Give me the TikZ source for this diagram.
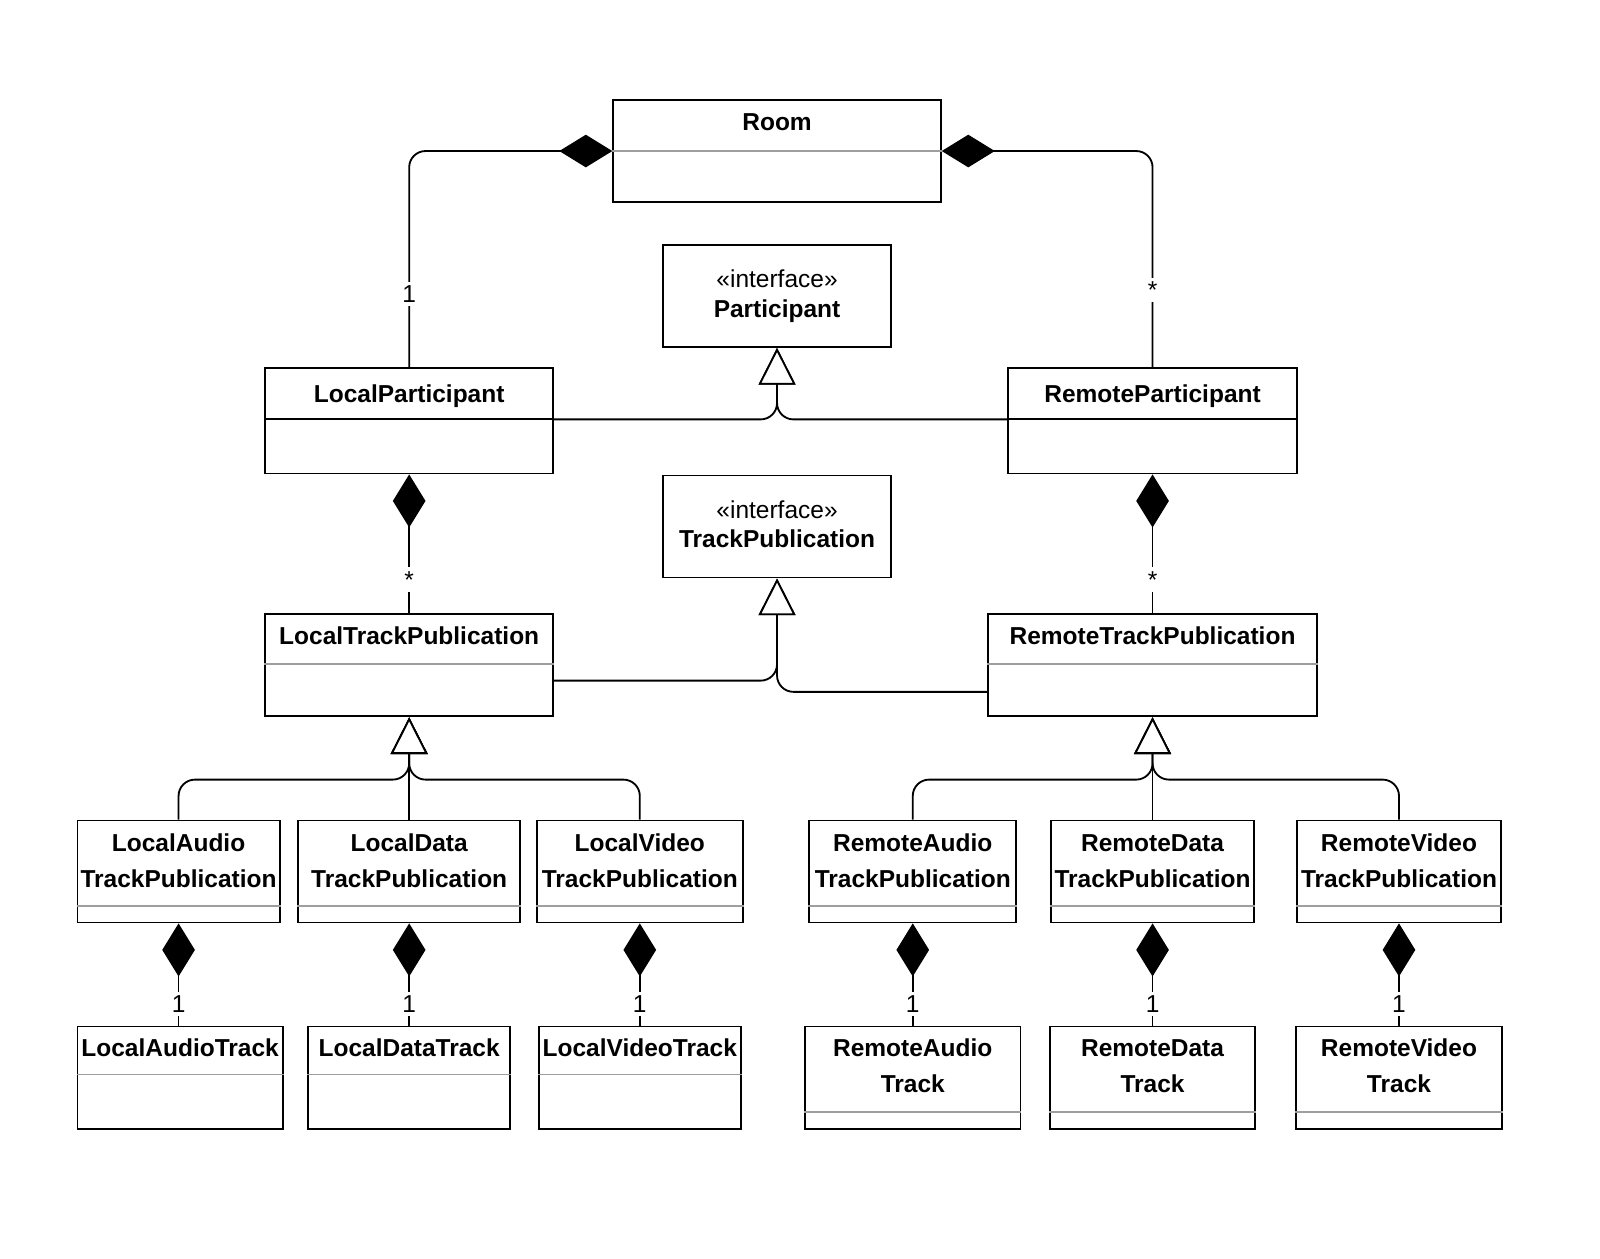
\documentclass[tikz,border=0pt]{standalone}
\usepackage{fontspec}
\setmainfont{Liberation Sans}
\usetikzlibrary{arrows.meta}
\begin{document}
\begin{tikzpicture}[x=0.5pt,y=-0.5pt,
  umlbox/.style={draw=black, line width=0.9pt, fill=white, inner sep=0pt, rectangle},
  ttl/.style={anchor=base, inner sep=0pt, font=\bfseries\fontsize{12}{14}\selectfont},
  ster/.style={anchor=base, inner sep=0pt, font=\fontsize{12}{14}\selectfont},
  divider/.style={draw=black!38, line width=0.8pt},
  conn/.style={draw=black, line width=0.9pt, rounded corners=8pt},
  comp/.style={conn, -{Diamond[length=26pt,width=16pt,fill=black]}},
  gen/.style={conn, -{Triangle[length=18pt,width=18pt,fill=white]}},
  mult/.style={fill=white, inner sep=1pt, minimum height=12pt, font=\fontsize{12}{14}\selectfont},
]
\useasboundingbox (0,0) rectangle (1568,1233.8);
\fill[white] (0,0) rectangle (1568,1233.8);

% ---------- boxes ----------
\node[umlbox, minimum width=160.5pt, minimum height=50pt] (room) at (761.5,148) {};
\node[umlbox, minimum width=111.5pt, minimum height=50pt] (part) at (761.5,290) {};
\node[umlbox, minimum width=141pt, minimum height=51.5pt] (lp) at (401,412.5) {};
\node[umlbox, minimum width=141.5pt, minimum height=51.5pt] (rp) at (1129.5,412.5) {};
\node[umlbox, minimum width=111.5pt, minimum height=50pt] (tp) at (761.5,516) {};
\node[umlbox, minimum width=141pt, minimum height=50pt] (ltp) at (401,652) {};
\node[umlbox, minimum width=161.5pt, minimum height=50pt] (rtp) at (1129.5,652) {};
\node[umlbox, minimum width=99pt, minimum height=50pt] (latp) at (175,854) {};
\node[umlbox, minimum width=109pt, minimum height=50pt] (ldtp) at (401,854) {};
\node[umlbox, minimum width=101pt, minimum height=50pt] (lvtp) at (627,854) {};
\node[umlbox, minimum width=101.5pt, minimum height=50pt] (ratp) at (894.5,854) {};
\node[umlbox, minimum width=99.5pt, minimum height=50pt] (rdtp) at (1129.5,854) {};
\node[umlbox, minimum width=100pt, minimum height=50pt] (rvtp) at (1371,854) {};
\node[umlbox, minimum width=100.5pt, minimum height=50pt] (lat) at (176.5,1056) {};
\node[umlbox, minimum width=99pt, minimum height=50pt] (ldt) at (401,1056) {};
\node[umlbox, minimum width=99pt, minimum height=50pt] (lvt) at (627,1056) {};
\node[umlbox, minimum width=105.5pt, minimum height=50pt] (rat) at (894.5,1056) {};
\node[umlbox, minimum width=100.5pt, minimum height=50pt] (rdt) at (1129.5,1056) {};
\node[umlbox, minimum width=101pt, minimum height=50pt] (rvt) at (1371,1056) {};

% ---------- dividers ----------
\draw[divider] (room.west) -- (room.east);
\draw[draw=black, line width=0.9pt] (lp.west |- 0,411) -- (lp.east |- 0,411);
\draw[draw=black, line width=0.9pt] (rp.west |- 0,411) -- (rp.east |- 0,411);
\draw[divider] (ltp.west |- 0,651) -- (ltp.east |- 0,651);
\draw[divider] (rtp.west |- 0,651) -- (rtp.east |- 0,651);
\foreach \n in {latp,ldtp,lvtp,ratp,rdtp,rvtp}
  \draw[divider] (\n.west |- 0,888) -- (\n.east |- 0,888);
\foreach \n in {lat,ldt,lvt}
  \draw[divider] (\n.west |- 0,1053) -- (\n.east |- 0,1053);
\foreach \n in {rat,rdt,rvt}
  \draw[divider] (\n.west |- 0,1090) -- (\n.east |- 0,1090);

% ---------- titles ----------
\node[ttl] (t-room) at (761.5,128) {Room};
\node[ster] (s-part) at (761.5,282) {«interface»};
\node[ttl] (t-part) at (761.5,311) {Participant};
\node[ttl] (t-lp) at (401,394) {LocalParticipant};
\node[ttl] (t-rp) at (1129.5,394) {RemoteParticipant};
\node[ster] (s-tp) at (761.5,508) {«interface»};
\node[ttl] (t-tp) at (761.5,537) {TrackPublication};
\node[ttl] (t-ltp) at (401,632) {LocalTrackPublication};
\node[ttl] (t-rtp) at (1129.5,632) {RemoteTrackPublication};
\node[ttl] (t-latp1) at (175,834) {LocalAudio};
\node[ttl] (t-latp2) at (175,870) {TrackPublication};
\node[ttl] (t-ldtp1) at (401,834) {LocalData};
\node[ttl] (t-ldtp2) at (401,870) {TrackPublication};
\node[ttl] (t-lvtp1) at (627,834) {LocalVideo};
\node[ttl] (t-lvtp2) at (627,870) {TrackPublication};
\node[ttl] (t-ratp1) at (894.5,834) {RemoteAudio};
\node[ttl] (t-ratp2) at (894.5,870) {TrackPublication};
\node[ttl] (t-rdtp1) at (1129.5,834) {RemoteData};
\node[ttl] (t-rdtp2) at (1129.5,870) {TrackPublication};
\node[ttl] (t-rvtp1) at (1371,834) {RemoteVideo};
\node[ttl] (t-rvtp2) at (1371,870) {TrackPublication};
\node[ttl] (t-lat) at (176.5,1035) {LocalAudioTrack};
\node[ttl] (t-ldt) at (401,1035) {LocalDataTrack};
\node[ttl] (t-lvt) at (627,1035) {LocalVideoTrack};
\node[ttl] (t-rat1) at (894.5,1035) {RemoteAudio};
\node[ttl] (t-rat2) at (894.5,1071) {Track};
\node[ttl] (t-rdt1) at (1129.5,1035) {RemoteData};
\node[ttl] (t-rdt2) at (1129.5,1071) {Track};
\node[ttl] (t-rvt1) at (1371,1035) {RemoteVideo};
\node[ttl] (t-rvt2) at (1371,1071) {Track};

% ---------- compositions ----------
\draw[comp] (lp.north) |- (room.west);
\node[mult] (m-lp) at (401,288) {1};
\draw[comp] (rp.north) |- (room.east);
\node[mult] (m-rp) at (1129.5,284) {*};
\draw[comp] (ltp.north) -- (lp.south);
\node[mult] (m-ltp) at (401,568) {*};
\draw[comp] (rtp.north) -- (rp.south);
\node[mult] (m-rtp) at (1129.5,568) {*};

\draw[comp] (lat.north -| latp.south) -- (latp.south);
\node[mult] (m-lat) at (175,984) {1};
\draw[comp] (ldt.north -| ldtp.south) -- (ldtp.south);
\node[mult] (m-ldt) at (401,984) {1};
\draw[comp] (lvt.north -| lvtp.south) -- (lvtp.south);
\node[mult] (m-lvt) at (627,984) {1};
\draw[comp] (rat.north -| ratp.south) -- (ratp.south);
\node[mult] (m-rat) at (894.5,984) {1};
\draw[comp] (rdt.north -| rdtp.south) -- (rdtp.south);
\node[mult] (m-rdt) at (1129.5,984) {1};
\draw[comp] (rvt.north -| rvtp.south) -- (rvtp.south);
\node[mult] (m-rvt) at (1371,984) {1};

% ---------- generalizations ----------
\draw[gen] (lp.east |- 0,411) -| (part.south);
\draw[gen] (rp.west |- 0,411) -| (part.south);
\draw[gen] (ltp.east |- 0,667) -| (tp.south);
\draw[gen] (rtp.west |- 0,678) -| (tp.south);

\coordinate (lj) at (401,764);
\coordinate (rj) at (1129.5,764);
\draw[gen] (latp.north) |- (lj) -- (ltp.south);
\draw[gen] (ldtp.north) -- (ltp.south);
\draw[gen] (lvtp.north) |- (lj) -- (ltp.south);
\draw[gen] (ratp.north) |- (rj) -- (rtp.south);
\draw[gen] (rdtp.north) -- (rtp.south);
\draw[gen] (rvtp.north) |- (rj) -- (rtp.south);
\end{tikzpicture}
\end{document}
